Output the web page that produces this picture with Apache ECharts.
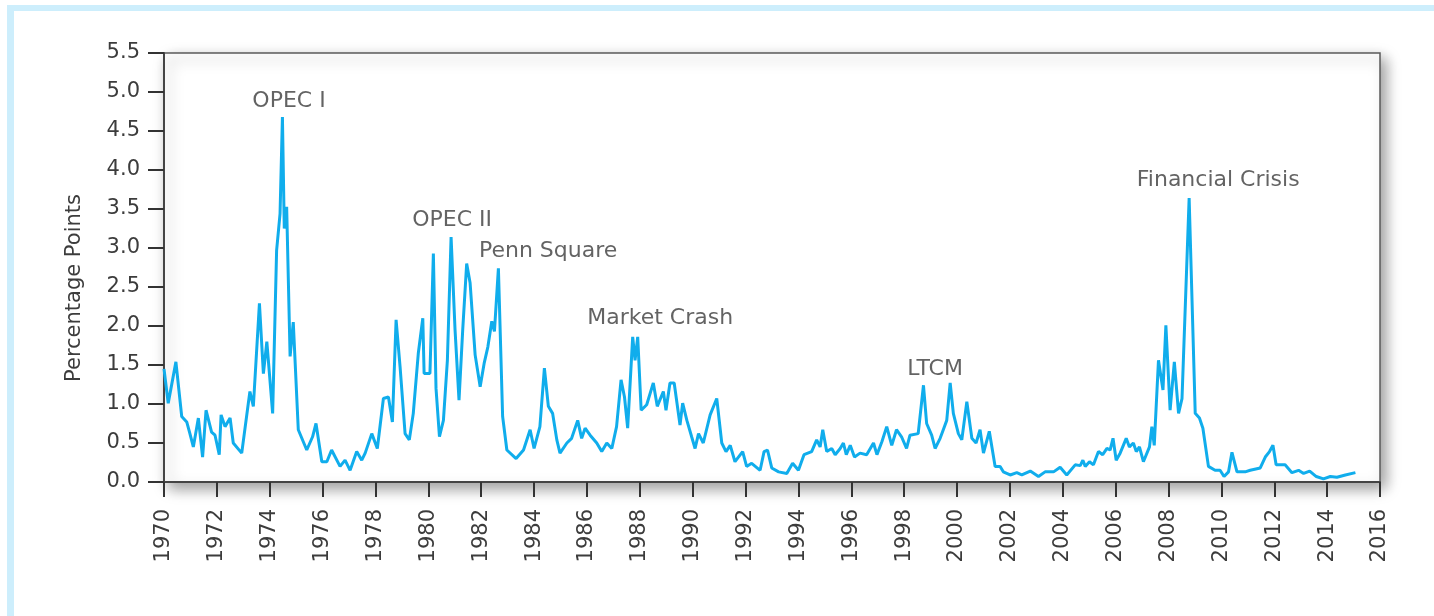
<!DOCTYPE html>
<html>
<head>
<meta charset="utf-8">
<script src="https://cdn.jsdelivr.net/npm/echarts@6/dist/echarts.min.js"></script>
<style>
	html, body { margin: 0; padding: 0; background: #fff; }
	#frame {
		position: absolute; left: 7px; top: 5px; width: 1427px; height: 611px;
		border-left: 7px solid #cdeefc; border-top: 6px solid #cdeefc; box-sizing: border-box;
	}
	#chart { position: absolute; left: 0; top: 0; width: 1434px; height: 616px; }
</style>
</head>
<body>
<div id="frame"></div>
<div id="chart"></div>
<script>
var years = [
	1970.00, 1970.16, 1970.45, 1970.67, 1970.86, 1970.98, 1971.11, 1971.30, 1971.46, 1971.59, 1971.80, 1971.93,
	1972.09, 1972.16, 1972.31, 1972.50, 1972.62, 1972.94, 1973.19, 1973.25, 1973.38, 1973.61, 1973.76, 1973.89,
	1974.11, 1974.26, 1974.39, 1974.48, 1974.55, 1974.64, 1974.77, 1974.89, 1975.08, 1975.40, 1975.62, 1975.75,
	1975.97, 1976.16, 1976.34, 1976.66, 1976.85, 1977.04, 1977.29, 1977.48, 1977.61, 1977.86, 1978.07, 1978.30,
	1978.49, 1978.64, 1978.78, 1978.93, 1979.12, 1979.28, 1979.43, 1979.62, 1979.79, 1979.84, 1980.06, 1980.19,
	1980.29, 1980.42, 1980.57, 1980.72, 1980.86, 1981.01, 1981.16, 1981.30, 1981.45, 1981.58, 1981.77, 1981.96,
	1982.11, 1982.25, 1982.40, 1982.50, 1982.65, 1982.81, 1982.97, 1983.32, 1983.60, 1983.85, 1984.00, 1984.22,
	1984.39, 1984.54, 1984.70, 1984.86, 1984.98, 1985.24, 1985.42, 1985.65, 1985.80, 1985.93, 1986.12, 1986.37,
	1986.56, 1986.75, 1986.94, 1987.12, 1987.29, 1987.42, 1987.54, 1987.73, 1987.82, 1987.92, 1988.05, 1988.26,
	1988.51, 1988.66, 1988.89, 1988.99, 1989.14, 1989.30, 1989.52, 1989.62, 1989.78, 1989.96, 1990.09, 1990.22,
	1990.40, 1990.66, 1990.91, 1991.10, 1991.26, 1991.42, 1991.60, 1991.89, 1992.04, 1992.23, 1992.55, 1992.70,
	1992.83, 1992.99, 1993.25, 1993.56, 1993.78, 1994.00, 1994.21, 1994.50, 1994.69, 1994.82, 1994.92, 1995.07,
	1995.26, 1995.39, 1995.58, 1995.70, 1995.81, 1995.96, 1996.12, 1996.33, 1996.58, 1996.84, 1996.97, 1997.16,
	1997.34, 1997.53, 1997.71, 1997.90, 1998.09, 1998.22, 1998.53, 1998.73, 1998.85, 1999.04, 1999.17, 1999.36,
	1999.48, 1999.61, 1999.74, 1999.86, 2000.05, 2000.18, 2000.37, 2000.56, 2000.72, 2000.87, 2001.00, 2001.22,
	2001.44, 2001.63, 2001.75, 2002.01, 2002.26, 2002.45, 2002.77, 2003.08, 2003.33, 2003.65, 2003.90, 2004.15,
	2004.47, 2004.66, 2004.76, 2004.85, 2005.01, 2005.16, 2005.35, 2005.51, 2005.67, 2005.79, 2005.90, 2006.02,
	2006.17, 2006.40, 2006.52, 2006.67, 2006.78, 2006.90, 2007.05, 2007.28, 2007.37, 2007.46, 2007.62, 2007.79,
	2007.90, 2008.06, 2008.22, 2008.38, 2008.51, 2008.57, 2008.78, 2009.01, 2009.17, 2009.30, 2009.51, 2009.76,
	2009.95, 2010.10, 2010.27, 2010.40, 2010.59, 2010.90, 2011.09, 2011.47, 2011.66, 2011.82, 2011.95, 2012.07,
	2012.41, 2012.67, 2012.92, 2013.11, 2013.34, 2013.59, 2013.86, 2014.12, 2014.37, 2014.69, 2015.07
];
var spread = [
	1.45, 1.01, 1.54, 0.84, 0.77, 0.62, 0.45, 0.82, 0.32, 0.92, 0.64, 0.60,
	0.35, 0.86, 0.71, 0.82, 0.50, 0.37, 1.01, 1.16, 0.97, 2.29, 1.39, 1.80,
	0.88, 2.97, 3.44, 4.68, 3.25, 3.53, 1.61, 2.05, 0.67, 0.41, 0.58, 0.75,
	0.26, 0.26, 0.41, 0.20, 0.28, 0.15, 0.39, 0.28, 0.37, 0.62, 0.43, 1.07,
	1.09, 0.77, 2.08, 1.48, 0.62, 0.54, 0.88, 1.65, 2.10, 1.39, 1.39, 2.93,
	1.20, 0.58, 0.79, 1.56, 3.14, 1.95, 1.05, 1.95, 2.80, 2.55, 1.63, 1.22,
	1.52, 1.73, 2.06, 1.93, 2.74, 0.84, 0.41, 0.30, 0.41, 0.67, 0.43, 0.71,
	1.46, 0.97, 0.88, 0.54, 0.37, 0.50, 0.56, 0.79, 0.56, 0.69, 0.60, 0.50,
	0.39, 0.50, 0.43, 0.71, 1.31, 1.09, 0.69, 1.86, 1.56, 1.86, 0.92, 0.99,
	1.27, 0.97, 1.16, 0.92, 1.27, 1.27, 0.73, 1.01, 0.79, 0.58, 0.43, 0.62,
	0.50, 0.86, 1.07, 0.50, 0.39, 0.47, 0.26, 0.39, 0.20, 0.24, 0.15, 0.39,
	0.41, 0.18, 0.13, 0.11, 0.24, 0.15, 0.35, 0.39, 0.54, 0.45, 0.67, 0.39,
	0.43, 0.35, 0.43, 0.50, 0.35, 0.47, 0.32, 0.37, 0.35, 0.50, 0.35, 0.52,
	0.71, 0.47, 0.67, 0.58, 0.43, 0.60, 0.62, 1.24, 0.75, 0.60, 0.43, 0.56,
	0.67, 0.79, 1.27, 0.88, 0.62, 0.54, 1.03, 0.56, 0.50, 0.67, 0.37, 0.65,
	0.20, 0.20, 0.13, 0.09, 0.12, 0.09, 0.14, 0.07, 0.13, 0.13, 0.19, 0.09,
	0.22, 0.21, 0.28, 0.20, 0.26, 0.22, 0.39, 0.35, 0.43, 0.41, 0.56, 0.28,
	0.37, 0.56, 0.45, 0.50, 0.39, 0.45, 0.26, 0.45, 0.71, 0.47, 1.56, 1.18,
	2.01, 0.92, 1.54, 0.88, 1.07, 1.05, 3.64, 0.88, 0.82, 0.69, 0.20, 0.15,
	0.15, 0.07, 0.13, 0.38, 0.13, 0.13, 0.15, 0.18, 0.32, 0.39, 0.47, 0.22,
	0.22, 0.12, 0.15, 0.11, 0.14, 0.07, 0.04, 0.07, 0.06, 0.09, 0.12
];

// event labels, placed in data units
var eventNames = ['OPEC I', 'OPEC II', 'Penn Square', 'Market Crash', 'LTCM', 'Financial Crisis'];
var eventYears = [1974.73, 1980.90, 1984.53, 1988.77, 1999.17, 2009.88];
var eventLevels = [4.88, 3.36, 2.96, 2.10, 1.45, 3.87];

var lineData = [];
for (var i = 0; i < years.length; i++) {
	lineData.push([years[i], spread[i]]);
}
var eventData = [];
for (var e = 0; e < eventNames.length; e++) {
	eventData.push({ value: [eventYears[e], eventLevels[e]], name: eventNames[e] });
}

var textFont = 'DejaVu Sans';
var textColor = '#3c3c3c';
var chart = echarts.init(document.getElementById('chart'));
chart.setOption({
	animation: false,
	grid: {
		show: true,
		left: 164,
		top: 53,
		right: 54,
		bottom: 134,
		backgroundColor: '#fff',
		borderColor: '#5a5a5a',
		borderWidth: 1.5,
		shadowColor: 'rgba(0,0,0,0.4)',
		shadowBlur: 14,
		shadowOffsetX: 5,
		shadowOffsetY: 6
	},
	graphic: [{
		type: 'text',
		x: 75,
		y: 288,
		rotation: Math.PI / 2,
		style: {
			text: 'Percentage Points',
			fill: textColor,
			font: '21px "DejaVu Sans"',
			align: 'center',
			verticalAlign: 'middle'
		}
	}],
	xAxis: {
		type: 'value',
		min: 1970,
		max: 2016,
		interval: 2,
		splitLine: { show: false },
		axisLine: { lineStyle: { color: '#444', width: 2 } },
		axisTick: { length: 15, lineStyle: { color: '#333', width: 2 } },
		axisLabel: {
			rotate: 90,
			margin: 27,
			color: textColor,
			fontSize: 21,
			fontFamily: textFont,
			formatter: function (v) { return String(v); }
		}
	},
	yAxis: {
		type: 'value',
		min: 0,
		max: 5.5,
		interval: 0.5,
		splitLine: { show: false },
		axisLine: { show: true, lineStyle: { color: '#444', width: 2 } },
		axisTick: { show: true, length: 16, lineStyle: { color: '#333', width: 2 } },
		axisLabel: {
			margin: 24,
			color: textColor,
			fontSize: 21,
			fontFamily: textFont,
			formatter: function (v) { return v.toFixed(1); }
		}
	},
	series: [
		{
			type: 'line',
			data: lineData,
			symbol: 'none',
			lineStyle: { color: '#10adec', width: 3 },
			z: 3
		},
		{
			type: 'scatter',
			data: eventData,
			symbolSize: 0,
			label: {
				show: true,
				position: 'inside',
				formatter: '{b}',
				color: textColor,
				fontSize: 22,
				fontFamily: textFont
			},
			z: 4
		}
	]
});
</script>
</body>
</html>
